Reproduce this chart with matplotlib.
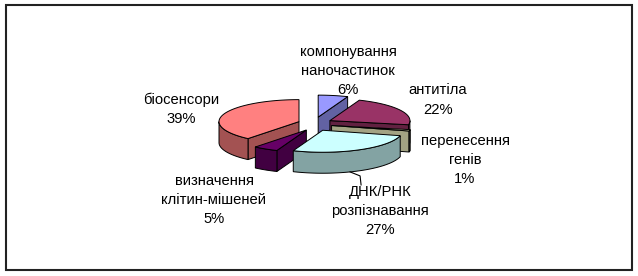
import numpy as np
import matplotlib
matplotlib.use('Agg')
import matplotlib.pyplot as plt
from matplotlib.patches import Polygon, Rectangle
from matplotlib.colors import to_rgb

# Data (slices go clockwise starting at 12 o'clock, like Excel)
labels = ['компонування\nнаночастинок', 'антитіла', 'перенесення\nгенів',
          'ДНК/РНК\nрозпізнавання', 'визначення\nклітин-мішеней', 'біосенсори']
shares = [6, 22, 1, 27, 5, 39]
colors = ['#9999FF', '#993366', '#FFFFCC', '#CCFFFF', '#660066', '#FF8080']

# label centres (pixels)
label_xy = [(348, 71), (438, 100), (465, 160), (380, 211), (214, 200), (181, 109)]

# pie layout in pixels
cx, cy = 315, 124      # centre of the top ellipse
rx, ry = 80, 22        # radii of the top ellipse
depth = 21             # thickness of the pie
ex, ey = 17, 7         # explode distance (x, y)


def rim(x0, y0, ang):
    a = np.radians(ang)
    return x0 + rx * np.sin(a), y0 - ry * np.cos(a)


def darker(c, f=0.64):
    r, g, b = to_rgb(c)
    return (r * f, g * f, b * f)


fig = plt.figure(figsize=(6.38, 2.76), dpi=100)
ax = fig.add_axes([0, 0, 1, 1])
ax.set_xlim(0, 638)
ax.set_ylim(276, 0)
ax.axis('off')

# outer frame
ax.add_patch(Rectangle((6, 5), 626, 265, fill=False, ec='#222222', lw=1.5))

total = float(sum(shares))
starts = np.concatenate([[0], np.cumsum(shares)[:-1]]) / total * 360
ends = np.cumsum(shares) / total * 360
mids = (starts + ends) / 2

# back slices first
order = np.argsort(-np.cos(np.radians(mids)))
for i in order:
    a, b, m = starts[i], ends[i], mids[i]
    x0 = cx + ex * np.sin(np.radians(m))
    y0 = cy - ey * np.cos(np.radians(m))
    side = darker(colors[i])

    # radial walls
    for ang, vis in [(a, np.sin(np.radians(a)) < 0), (b, np.sin(np.radians(b)) > 0)]:
        if vis:
            px, py = rim(x0, y0, ang)
            wall = [(x0, y0), (px, py), (px, py + depth), (x0, y0 + depth)]
            ax.add_patch(Polygon(wall, closed=True, fc=side, ec='black', lw=0.7))

    # outer curved wall (front half only)
    lo, hi = max(a, 90), min(b, 270)
    if hi > lo:
        t = np.linspace(lo, hi, 60)
        px, py = rim(x0, y0, t)
        pts = list(zip(px, py)) + list(zip(px[::-1], py[::-1] + depth))
        ax.add_patch(Polygon(pts, closed=True, fc=side, ec='black', lw=0.7))

    # top face
    t = np.linspace(a, b, 80)
    px, py = rim(x0, y0, t)
    pts = [(x0, y0)] + list(zip(px, py))
    ax.add_patch(Polygon(pts, closed=True, fc=colors[i], ec='black', lw=0.7))

# data labels
for i in range(len(labels)):
    ax.text(label_xy[i][0], label_xy[i][1], labels[i] + '\n' + str(shares[i]) + '%',
            ha='center', va='center', fontsize=10.6, family='Liberation Sans',
            linespacing=1.48, color='black')

# leader line for the DNA/RNA label
px, py = rim(cx + ex * np.sin(np.radians(mids[3])), cy - ey * np.cos(np.radians(mids[3])), 160)
ax.plot([px, px + 10, px + 11], [py + depth, py + depth + 4, py + depth + 13],
        color='black', lw=0.8)

fig.savefig('out.png', dpi=100)
